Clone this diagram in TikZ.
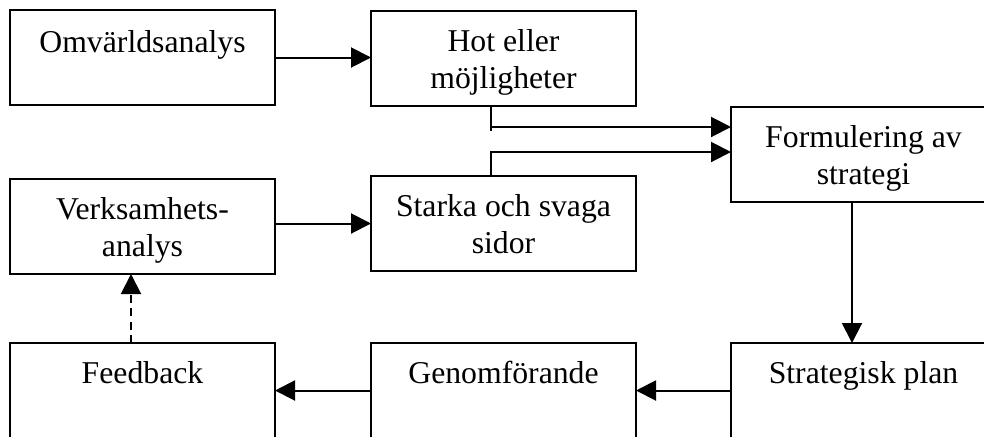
\documentclass[tikz,border=0pt]{standalone}
\usepackage{fontspec}
\setmainfont{Liberation Serif}
\usetikzlibrary{arrows.meta}

\begin{document}
\begin{tikzpicture}[x=0.75pt,y=-0.75pt,
  box/.style={draw, line width=1.5pt, anchor=north west,
    minimum width=198.75pt, minimum height=71.25pt, inner sep=0pt, outer sep=0pt},
  lbl/.style={anchor=north, inner sep=0pt, align=center,
    font=\fontsize{23.8}{27.75}\selectfont},
  wire/.style={line width=1.5pt},
  link/.style={wire, -{Triangle[length=15pt,width=15pt]}},
]
\useasboundingbox (0,0) rectangle (984,436);
\clip (0,0) rectangle (984,436);

% boxes
\node[box] (omv)   at (10,10)   {};
\node[box] (hot)   at (371,11)  {};
\node[box] (form)  at (731,107) {};
\node[box] (verk)  at (10,179)  {};
\node[box] (stark) at (371,176) {};
\node[box] (feed)  at (10,343)  {};
\node[box] (gen)   at (371,343) {};
\node[box] (plan)  at (731,343) {};

% labels, set near the top of each box
\node[lbl] (omvT)   at ([yshift=-12pt]omv.north)     {\strut Omvärldsanalys};
\node[lbl] (hotT)   at ([yshift=-10.6pt]hot.north)   {\strut Hot eller\\möjligheter};
\node[lbl] (formT)  at ([yshift=-10.6pt]form.north)  {\strut Formulering av\\strategi};
\node[lbl] (verkT)  at ([yshift=-10.6pt]verk.north)  {\strut Verksamhets-\\analys};
\node[lbl] (starkT) at ([yshift=-10.6pt]stark.north) {\strut Starka och svaga\\sidor};
\node[lbl] (feedT)  at ([yshift=-10.6pt]feed.north)  {\strut Feedback};
\node[lbl] (genT)   at ([yshift=-10.6pt]gen.north)   {\strut Genomförande};
\node[lbl] (planT)  at ([yshift=-10.6pt]plan.north)  {\strut Strategisk plan};

% bend points of the connectors
\coordinate (hk) at (491,127);
\coordinate (sk) at (491,152);
\coordinate (dk) at (852,0);
\coordinate (fk) at (131,0);

% connectors
\draw[link] (omv.east) -- (omv.east -| hot.west);
\draw[link] (verk.east |- stark.west) -- (stark.west);
\draw[wire] (hot.south -| hk) -- ([yshift=-3pt]hk);
\draw[link] (hk) -- (hk -| form.west);
\draw[link] (stark.north -| sk) -- (sk) -- (sk -| form.west);
\draw[link] (form.south -| dk) -- (plan.north -| dk);
\draw[link] (plan.west) -- (plan.west -| gen.east);
\draw[link] (gen.west) -- (gen.west -| feed.east);
\draw[link, dash pattern=on 6pt off 4pt] (feed.north -| fk) -- (verk.south -| fk);
\end{tikzpicture}
\end{document}
